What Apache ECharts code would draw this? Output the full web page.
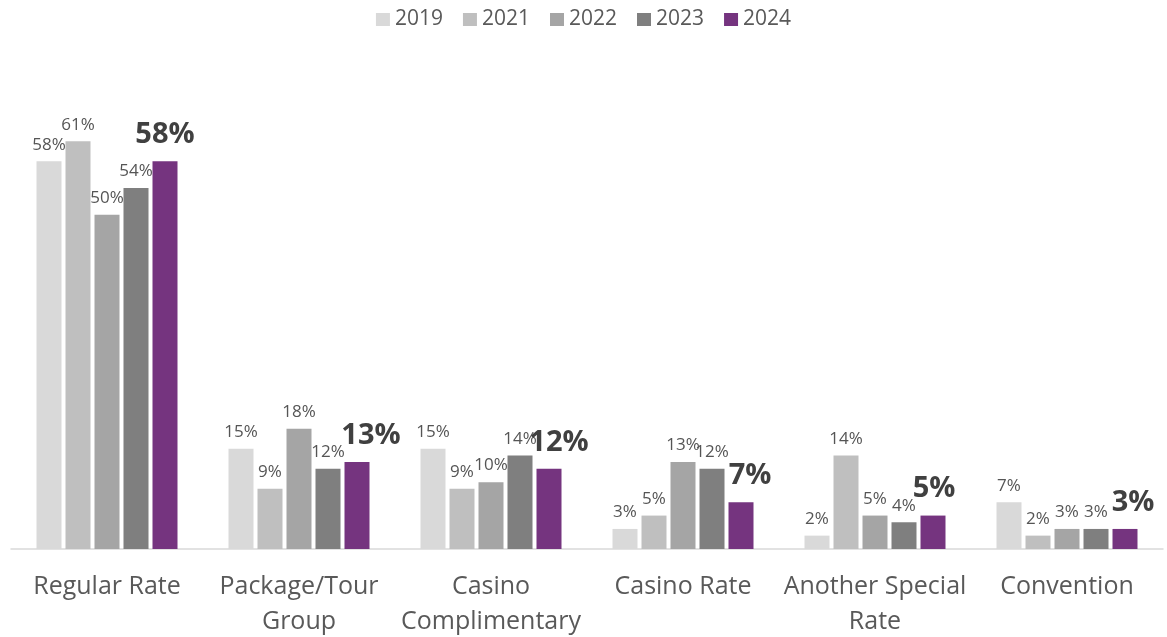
<!DOCTYPE html>
<html>
<head>
<meta charset="utf-8">
<script src="https://cdn.jsdelivr.net/npm/echarts@6/dist/echarts.min.js"></script>
<style>
  html, body { margin: 0; padding: 0; background: #fff; }
  #container { width: 1167px; height: 637px; }
</style>
</head>
<body>
<div id="container"></div>
<script>
let categories = ['Regular Rate', 'Package/Tour\nGroup', 'Casino\nComplimentary', 'Casino Rate', 'Another Special\nRate', 'Convention'];
let years = ['2019', '2021', '2022', '2023', '2024'];
let colors = ['#d9d9d9', '#bfbfbf', '#a5a5a5', '#7f7f7f', '#75347f'];

let v2019 = [58, 15, 15, 3, 2, 7];
let v2021 = [61, 9, 9, 5, 14, 2];
let v2022 = [50, 18, 10, 13, 5, 3];
let v2023 = [54, 12, 14, 12, 4, 3];
let v2024 = [58, 13, 12, 7, 5, 3];
let values = [v2019, v2021, v2022, v2023, v2024];

// sideways nudge of the bold 2024 labels, like the original
let boldShift = [0, 14, 10, 9, 1, 8];

let font = '"Open Sans", "Noto Sans", sans-serif';

let series = years.map((y, i) => {
    let last = i === years.length - 1;
    return {
        name: y,
        type: 'bar',
        data: values[i].map((v, j) => last
            ? { value: v, label: { offset: [boldShift[j], 0] } }
            : v),
        barWidth: 25,
        barGap: '16%',
        itemStyle: { color: colors[i] },
        label: {
            show: true,
            position: 'top',
            distance: last ? 12 : 8,
            formatter: '{c}%',
            fontFamily: font,
            fontSize: last ? 29 : 17,
            fontWeight: last ? 'bold' : 'normal',
            color: last ? '#404040' : '#555555'
        }
    };
});

let chart = echarts.init(document.getElementById('container'));
chart.setOption({
    animation: false,
    legend: {
        data: years,
        top: 4,
        left: 'center',
        itemWidth: 14,
        itemHeight: 13,
        itemGap: 20,
        icon: 'rect',
        textStyle: { fontFamily: font, fontSize: 21, color: '#595959' }
    },
    grid: { left: 11, right: 4, top: 81, bottom: 88, containLabel: false, outerBoundsMode: 'none' },
    xAxis: {
        type: 'category',
        data: categories,
        axisLine: { lineStyle: { color: '#d9d9d9', width: 1.5 } },
        axisTick: { show: false },
        axisLabel: {
            margin: 20,
            fontFamily: font,
            fontSize: 25,
            lineHeight: 35,
            color: '#595959',
            interval: 0
        }
    },
    yAxis: {
        type: 'value',
        min: 0,
        max: 70,
        show: false,
        splitLine: { show: false }
    },
    series: series
});
</script>
</body>
</html>
